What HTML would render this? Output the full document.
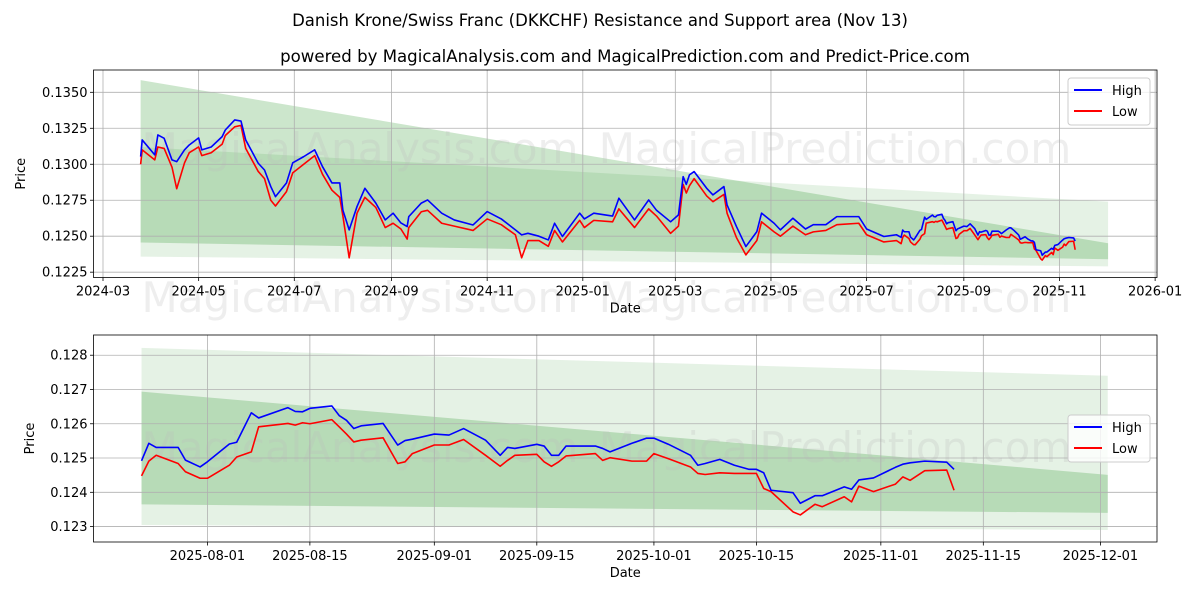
<!DOCTYPE html>
<html><head><meta charset="utf-8"><style>
html,body{margin:0;padding:0;background:#fff;}
svg{display:block;font-family:"DejaVu Sans","Liberation Sans",sans-serif;}
</style></head><body>
<svg id="chart" width="1200" height="600" viewBox="0 0 1200 600">
<rect width="1200" height="600" fill="#fff"/>
<text x="600" y="26" text-anchor="middle" font-size="16.5" fill="#000">Danish Krone/Swiss Franc (DKKCHF) Resistance and Support area (Nov 13)</text>
<text x="625" y="62" text-anchor="middle" font-size="16.6" fill="#000">powered by MagicalAnalysis.com and MagicalPrediction.com and Predict-Price.com</text>
</svg>
<script>
// ---- data ----
const earlyDates=['2024-03-25','2024-03-26','2024-04-03','2024-04-05','2024-04-09','2024-04-14','2024-04-17','2024-04-22','2024-04-25','2024-05-01','2024-05-03','2024-05-09','2024-05-16','2024-05-18','2024-05-24','2024-05-28','2024-05-31','2024-06-08','2024-06-12','2024-06-16','2024-06-19','2024-06-26','2024-06-30','2024-07-07','2024-07-14','2024-07-19','2024-07-25','2024-07-30','2024-08-01','2024-08-05','2024-08-10','2024-08-15','2024-08-22','2024-08-28','2024-09-02','2024-09-07','2024-09-11','2024-09-12','2024-09-20','2024-09-24','2024-10-03','2024-10-11','2024-10-23','2024-11-01','2024-11-10','2024-11-19','2024-11-23','2024-11-27','2024-12-04','2024-12-10','2024-12-14','2024-12-19','2024-12-30','2025-01-02','2025-01-08','2025-01-20','2025-01-24','2025-02-03','2025-02-12','2025-02-17','2025-02-26','2025-03-03','2025-03-06','2025-03-08','2025-03-10','2025-03-13','2025-03-21','2025-03-25','2025-04-01','2025-04-03','2025-04-09','2025-04-15','2025-04-22','2025-04-25','2025-05-03','2025-05-07','2025-05-15','2025-05-23','2025-05-28','2025-06-05','2025-06-12','2025-06-26','2025-07-01','2025-07-12','2025-07-20'];
const earlyHigh=[0.13053,0.13169,0.13065,0.13204,0.1318,0.1303,0.13018,0.1310,0.13134,0.13183,0.131,0.1312,0.13192,0.13238,0.13308,0.1330,0.13169,0.13007,0.1296,0.12845,0.12775,0.1287,0.1301,0.13053,0.131,0.12983,0.1287,0.1287,0.1268,0.12544,0.12706,0.12833,0.1273,0.12613,0.1266,0.12592,0.12567,0.12636,0.1273,0.12752,0.1266,0.12613,0.12578,0.12671,0.1262,0.12544,0.12509,0.1252,0.1250,0.12474,0.1259,0.12498,0.1266,0.1262,0.1266,0.1264,0.12764,0.12613,0.12752,0.1268,0.1260,0.12648,0.12914,0.1286,0.12926,0.12949,0.12833,0.12787,0.12845,0.12717,0.12567,0.12428,0.12532,0.1266,0.1259,0.12544,0.12625,0.1255,0.1258,0.1258,0.12636,0.12636,0.1255,0.12498,0.1251];
const earlyLow=[0.1300,0.1310,0.1303,0.1312,0.1311,0.1298,0.1283,0.1301,0.1308,0.1312,0.1306,0.1308,0.1314,0.1320,0.1326,0.1327,0.1311,0.1295,0.1290,0.1275,0.1271,0.1281,0.1294,0.1300,0.1306,0.1293,0.1282,0.1277,0.1264,0.1235,0.1266,0.1277,0.1270,0.1256,0.1259,0.1255,0.1248,0.1256,0.1267,0.1268,0.1259,0.1257,0.1254,0.1262,0.1258,0.1251,0.1235,0.1247,0.1247,0.1243,0.1254,0.1246,0.1261,0.1256,0.1261,0.1260,0.1269,0.1256,0.1269,0.1264,0.1252,0.1257,0.1286,0.1280,0.1285,0.1290,0.1278,0.1274,0.1279,0.1266,0.1249,0.1237,0.1247,0.1260,0.1253,0.1250,0.1257,0.1251,0.1253,0.1254,0.1258,0.1259,0.1251,0.1246,0.1247];
const recentDates=['2025-07-23','2025-07-24','2025-07-25','2025-07-28','2025-07-29','2025-07-31','2025-08-01','2025-08-04','2025-08-05','2025-08-07','2025-08-08','2025-08-12','2025-08-13','2025-08-14','2025-08-15','2025-08-18','2025-08-19','2025-08-20','2025-08-21','2025-08-22','2025-08-25','2025-08-27','2025-08-28','2025-08-29','2025-09-01','2025-09-03','2025-09-05','2025-09-08','2025-09-10','2025-09-11','2025-09-12','2025-09-15','2025-09-16','2025-09-17','2025-09-18','2025-09-19','2025-09-23','2025-09-24','2025-09-25','2025-09-28','2025-09-30','2025-10-01','2025-10-03','2025-10-06','2025-10-07','2025-10-08','2025-10-10','2025-10-12','2025-10-14','2025-10-15','2025-10-16','2025-10-17','2025-10-20','2025-10-21','2025-10-23','2025-10-24','2025-10-27','2025-10-28','2025-10-29','2025-10-31','2025-11-03','2025-11-04','2025-11-05','2025-11-07','2025-11-10','2025-11-11'];
const recentHigh=[0.12492,0.12543,0.12531,0.12531,0.12494,0.12474,0.12489,0.12541,0.12546,0.12632,0.12617,0.12647,0.12636,0.12635,0.12645,0.12652,0.12624,0.1261,0.12586,0.12594,0.12601,0.12538,0.12551,0.12555,0.1257,0.12567,0.12586,0.12552,0.12508,0.12531,0.12528,0.1254,0.12535,0.12508,0.12508,0.12535,0.12535,0.12528,0.12518,0.12543,0.12558,0.12558,0.1254,0.12508,0.12479,0.12484,0.12496,0.12479,0.12467,0.12467,0.12457,0.12406,0.12399,0.12368,0.1239,0.1239,0.12416,0.12409,0.12436,0.12442,0.12473,0.12482,0.12486,0.12491,0.12488,0.12467];
const recentLow=[0.12448,0.12491,0.12508,0.12484,0.1246,0.12441,0.12441,0.12479,0.12503,0.12518,0.12591,0.12601,0.12596,0.12603,0.126,0.12612,0.12591,0.1257,0.12547,0.12552,0.12559,0.12484,0.12489,0.12513,0.12538,0.12538,0.12554,0.12508,0.12476,0.12493,0.12508,0.12511,0.12489,0.12476,0.12489,0.12506,0.12513,0.12493,0.12501,0.12491,0.12491,0.12513,0.12498,0.12474,0.12455,0.12452,0.12457,0.12455,0.12455,0.12455,0.12411,0.12402,0.12343,0.12334,0.12365,0.12358,0.12387,0.12372,0.12418,0.12402,0.12424,0.12445,0.12435,0.12463,0.12465,0.12406];
const bandDates=['2024-03-25','2025-12-02'];
const band1Upper=[0.13585,0.12451];
const band1Lower=[0.12456,0.1234];
const band2Upper=[0.1312,0.1274];
const band2Lower=[0.12358,0.12290];
const topYTicks=[0.1225,0.1250,0.1275,0.1300,0.1325,0.1350];
const topXTicks=['2024-03-01','2024-05-01','2024-07-01','2024-09-01','2024-11-01','2025-01-01','2025-03-01','2025-05-01','2025-07-01','2025-09-01','2025-11-01','2026-01-01'];
const botYTicks=[0.123,0.124,0.125,0.126,0.127,0.128];
const botXTicks=['2025-08-01','2025-08-15','2025-09-01','2025-09-15','2025-10-01','2025-10-15','2025-11-01','2025-11-15','2025-12-01'];

const NS='http://www.w3.org/2000/svg';
const svg=document.getElementById('chart');
const day=s=>Date.parse(s+'T00:00:00Z')/86400000;
function mk(tag,attrs,parent){const e=document.createElementNS(NS,tag);for(const k in attrs)e.setAttribute(k,attrs[k]);(parent||svg).appendChild(e);return e;}

function panel(cfg){
  const {L,R,T,B,dRef,xRef,ppd,v0,v1}=cfg;
  const g=mk('g',{});
  
  
  const X=d=>xRef+(day(d)-day(dRef))*ppd;
  const Y=v=>B-(v-v0)/(v1-v0)*(B-T);
  const clipId=cfg.name+'-clip';
  const cp=mk('clipPath',{id:clipId},g);mk('rect',{x:L,y:T,width:R-L,height:B-T},cp);
  const bs=cfg.bandStart, be=bandDates[1];
  const f=(day(bs)-day(bandDates[0]))/(day(be)-day(bandDates[0]));
  const at=(arr)=>arr[0]+(arr[1]-arr[0])*f;
  function band(up,lo,op,name){
    const p=mk('polygon',{points:`${X(bs)},${Y(at(up))} ${X(be)},${Y(up[1])} ${X(be)},${Y(lo[1])} ${X(bs)},${Y(at(lo))}`,fill:'#008000','fill-opacity':op,'clip-path':`url(#${clipId})`},g);
    
    
  }
  band(band1Upper,band1Lower,0.2,'resistance-band');
  band(band2Upper,band2Lower,0.1,'support-band');
  cfg.marks.forEach(m=>{const t=mk('text',{x:m[0],y:m[1],'text-anchor':'middle','font-size':42,fill:'#bbbbbb','fill-opacity':0.25},g);t.textContent=m[2];
    
    });
  cfg.yt.forEach(v=>{const y=Y(v);
    mk('line',{x1:L,x2:R,y1:y,y2:y,stroke:'#b0b0b0','stroke-width':0.8},g);
    mk('line',{x1:L-3.5,x2:L,y1:y,y2:y,stroke:'#000','stroke-width':0.8},g);
    const t=mk('text',{x:L-6,y:y+4.5,'text-anchor':'end','font-size':13},g);t.textContent=v.toFixed(cfg.yd);
    
    });
  cfg.xt.forEach(d=>{const x=X(d);
    mk('line',{x1:x,x2:x,y1:T,y2:B,stroke:'#b0b0b0','stroke-width':0.8},g);
    mk('line',{x1:x,x2:x,y1:B,y2:B+3.5,stroke:'#000','stroke-width':0.8},g);
    const t=mk('text',{x:x,y:B+18,'text-anchor':'middle','font-size':13},g);t.textContent=cfg.xl(d);
    
    });
  function line(ds,vs,col,name){
    const p=mk('polyline',{points:ds.map((d,i)=>X(d)+','+Y(vs[i])).join(' '),fill:'none',stroke:col,'stroke-width':1.6,'stroke-linejoin':'round','clip-path':`url(#${clipId})`},g);
    
    
  }
  line(cfg.dates,cfg.low,'#ff0000','low-line');
  line(cfg.dates,cfg.high,'#0000ff','high-line');
  mk('rect',{x:L,y:T,width:R-L,height:B-T,fill:'none',stroke:'#000','stroke-width':0.8},g);
  const xt=mk('text',{x:(L+R)/2,y:B+35,'text-anchor':'middle','font-size':13},g);xt.textContent='Date';
  
  
  const yc=(T+B)/2;
  const yt=mk('text',{x:cfg.ylx,y:yc,'text-anchor':'middle','font-size':13,transform:`rotate(-90 ${cfg.ylx} ${yc})`},g);yt.textContent='Price';
  
  
  const lg=mk('g',{},g);
  
  
  const lx=cfg.lg[0],ly=cfg.lg[1];
  mk('rect',{x:lx,y:ly,width:82,height:47,rx:3,fill:'#fff','fill-opacity':0.8,stroke:'#cccccc'},lg);
  [['High','#0000ff'],['Low','#ff0000']].forEach((e,i)=>{const yy=ly+12+i*21;
    mk('line',{x1:lx+6,x2:lx+34,y1:yy,y2:yy,stroke:e[1],'stroke-width':2},lg);
    const t=mk('text',{x:lx+44,y:yy+5,'font-size':13},lg);t.textContent=e[0];
    
    });
}

panel({name:'top-panel',L:93.5,R:1157,T:70,B:277.5,dRef:'2024-03-01',xRef:103,ppd:1.568,v0:0.12213,v1:0.13655,bandStart:bandDates[0],
  yt:topYTicks,yd:4,xt:topXTicks,xl:d=>d.slice(0,7),dates:earlyDates.concat(recentDates),high:earlyHigh.concat(recentHigh),low:earlyLow.concat(recentLow),
  ylx:25,lg:[1068,78],marks:[[360,163,'MagicalAnalysis.com'],[835,163,'MagicalPrediction.com'],[360,312,'MagicalAnalysis.com'],[835,312,'MagicalPrediction.com']]});
panel({name:'bottom-panel',L:93.5,R:1157,T:335,B:542,dRef:'2025-08-01',xRef:207.4,ppd:7.32,v0:0.12255,v1:0.12859,bandStart:recentDates[0],
  yt:botYTicks,yd:3,xt:botXTicks,xl:d=>d,dates:recentDates,high:recentHigh,low:recentLow,
  ylx:34,lg:[1068,415],marks:[[360,462,'MagicalAnalysis.com'],[835,462,'MagicalPrediction.com']]});
</script>
</body></html>
